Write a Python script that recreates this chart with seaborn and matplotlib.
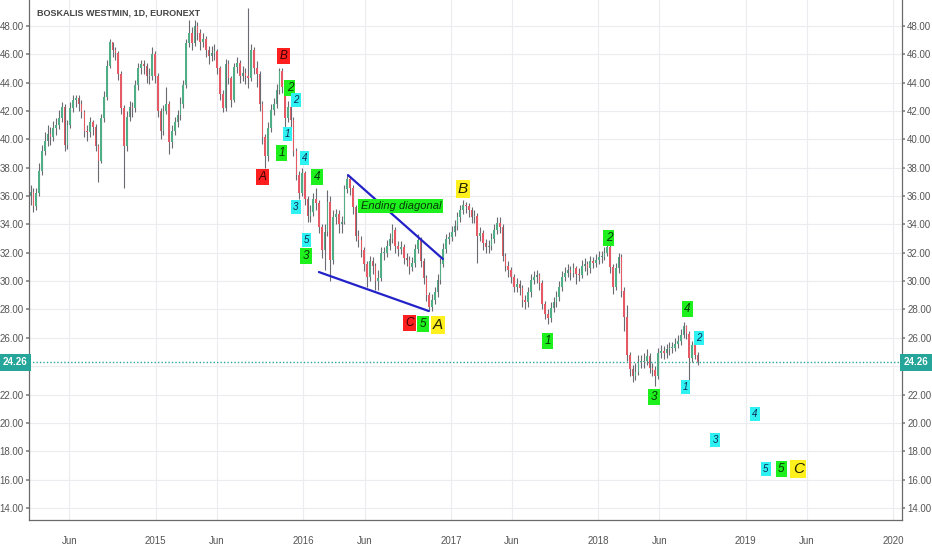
import pandas as pd
import numpy as np
import seaborn as sns
import matplotlib.pyplot as plt
import matplotlib.transforms as mtransforms

# weekly candles (close / high / low), start 2014-02-25
start_date = '2014-02-25'
first_open = 36.0
closes = [
    36.3, 35.3, 36.2, 37.8, 39.2, 39.9, 40.4, 40.2, 40.8, 41.0,
    41.5, 42.3, 39.6, 41.0, 42.2, 42.8, 42.9, 42.5, 41.9, 40.6,
    40.5, 41.2, 40.9, 39.5, 38.5, 41.5, 43.0, 45.2, 46.9, 46.3,
    46.1, 44.6, 42.2, 39.5, 41.6, 42.3, 42.2, 43.8, 45.0, 45.3,
    45.2, 44.5, 44.5, 46.0, 44.5, 42.0, 40.6, 42.0, 42.5, 39.8,
    40.6, 41.2, 41.7, 42.5, 43.8, 46.8, 47.5, 46.8, 48.0, 47.5,
    46.9, 47.1, 46.3, 45.9, 46.1, 46.2, 45.0, 43.2, 42.2, 45.3,
    44.3, 42.8, 45.1, 45.4, 44.5, 44.7, 44.5, 44.3, 46.3, 45.0,
    44.6, 42.5, 40.2, 38.8, 40.8, 42.1, 42.5, 43.5, 44.8, 43.7,
    41.5, 42.3, 41.4, 39.2, 37.5, 36.2, 37.6, 35.8, 34.6, 34.9,
    35.8, 35.5, 33.8, 32.2, 33.5, 35.6, 31.5, 34.5, 34.7, 34.0,
    34.2, 36.5, 37.2, 36.6, 35.2, 33.2, 32.9, 32.2, 31.2, 30.3,
    31.4, 31.1, 30.0, 30.2, 32.0, 32.0, 32.5, 33.0, 33.6, 32.5,
    32.3, 32.4, 31.6, 31.5, 31.0, 31.3, 32.3, 32.9, 31.4, 30.2,
    29.0, 28.2, 28.7, 29.2, 30.1, 31.2, 32.3, 33.0, 33.1, 33.5,
    33.9, 34.5, 35.0, 35.4, 35.3, 35.0, 34.5, 34.6, 33.2, 33.4,
    32.7, 32.4, 32.5, 33.0, 33.6, 34.1, 33.8, 31.8, 31.1, 30.8,
    30.3, 29.6, 29.8, 29.5, 28.7, 28.5, 29.2, 30.1, 30.3, 30.4,
    29.9, 28.4, 27.7, 27.4, 28.1, 28.5, 28.9, 29.6, 30.3, 30.6,
    30.8, 30.6, 30.9, 30.5, 30.4, 31.1, 31.2, 30.9, 31.4, 31.3,
    31.5, 31.7, 31.7, 32.0, 32.4, 31.0, 29.6, 30.9, 31.7, 29.3,
    27.5, 24.8, 23.8, 23.3, 23.6, 24.3, 24.3, 24.4, 24.7, 23.9,
    23.7, 23.3, 24.9, 25.1, 24.9, 25.2, 25.3, 25.3, 25.6, 25.8,
    26.2, 26.8, 26.3, 24.6, 25.5, 24.8, 24.26,
]
highs = [
    36.8, 36.6, 36.6, 38.3, 39.6, 40.5, 41.0, 40.9, 41.3, 41.5,
    42.1, 42.6, 42.5, 41.4, 42.6, 43.1, 43.1, 43.1, 42.8, 42.1,
    41.0, 41.6, 41.4, 41.1, 39.7, 41.8, 43.4, 45.6, 47.1, 46.9,
    46.5, 46.2, 44.8, 42.4, 42.0, 42.7, 42.6, 44.2, 45.4, 45.6,
    45.6, 45.4, 45.0, 46.5, 46.2, 44.7, 42.2, 42.4, 43.7, 42.7,
    41.0, 41.6, 42.1, 43.0, 44.2, 47.1, 48.4, 47.9, 48.4, 48.3,
    47.8, 47.5, 47.3, 46.6, 46.6, 46.7, 46.4, 45.2, 43.5, 45.7,
    45.6, 44.5, 45.4, 45.8, 45.6, 45.2, 45.0, 49.3, 46.7, 46.5,
    45.5, 44.8, 42.7, 40.4, 41.2, 42.5, 42.9, 43.9, 45.0, 45.0,
    43.9, 42.7, 42.6, 41.6, 39.4, 37.8, 38.0, 37.8, 36.0, 35.4,
    36.2, 36.6, 35.7, 34.0, 34.0, 36.4, 36.0, 35.0, 35.1, 35.0,
    34.6, 36.8, 37.5, 37.4, 36.8, 35.4, 33.6, 33.2, 32.4, 31.4,
    31.8, 31.7, 31.3, 30.8, 32.4, 32.4, 32.9, 33.4, 34.0, 33.8,
    32.8, 32.8, 32.6, 32.0, 31.8, 31.7, 32.6, 33.3, 33.1, 31.6,
    30.4, 29.2, 29.1, 29.6, 30.5, 31.6, 32.7, 33.3, 33.5, 33.9,
    34.3, 34.9, 35.4, 35.7, 35.6, 35.5, 35.2, 35.0, 34.8, 33.8,
    33.6, 33.0, 32.9, 33.4, 34.0, 34.5, 34.5, 34.0, 32.0, 31.4,
    31.0, 30.5, 30.2, 30.1, 29.7, 29.0, 29.6, 30.5, 30.7, 30.8,
    30.6, 30.1, 28.6, 28.0, 28.5, 28.9, 29.3, 30.0, 30.7, 31.0,
    31.2, 31.1, 31.3, 31.1, 30.9, 31.5, 31.6, 31.4, 31.8, 31.7,
    31.9, 32.1, 32.1, 32.4, 32.9, 32.6, 31.2, 31.3, 32.0, 31.9,
    29.6, 28.3, 25.0, 24.1, 24.2, 24.8, 24.8, 24.9, 25.2, 24.9,
    24.2, 24.0, 25.3, 25.5, 25.4, 25.6, 25.7, 25.7, 26.0, 26.2,
    26.6, 27.1, 26.9, 26.5, 25.8, 25.7, 25.0,
]
lows = [
    35.4, 34.9, 35.0, 36.0, 37.5, 38.9, 39.5, 39.6, 39.9, 40.3,
    40.7, 41.2, 39.2, 39.3, 40.8, 41.9, 42.3, 42.0, 41.5, 40.2,
    39.9, 40.2, 40.3, 39.2, 37.0, 38.3, 41.2, 42.8, 45.0, 45.8,
    45.6, 44.2, 41.8, 36.6, 39.2, 41.3, 41.6, 41.9, 43.5, 44.6,
    44.6, 44.0, 43.9, 44.2, 44.0, 41.6, 40.0, 40.3, 41.8, 39.0,
    39.4, 40.3, 40.9, 41.4, 42.2, 43.6, 46.5, 46.3, 46.6, 47.0,
    46.3, 46.5, 45.8, 45.3, 45.5, 45.6, 44.6, 42.8, 41.9, 42.0,
    43.9, 42.3, 42.6, 44.7, 44.0, 44.1, 43.9, 43.6, 44.1, 44.6,
    43.7, 42.0, 39.7, 38.0, 38.5, 40.5, 41.7, 42.2, 43.2, 43.3,
    40.4, 41.2, 40.9, 38.8, 37.1, 35.8, 36.0, 35.4, 34.2, 34.2,
    34.6, 35.0, 33.4, 31.6, 30.8, 33.2, 30.0, 31.2, 34.0, 33.4,
    33.4, 34.0, 36.2, 36.1, 34.7, 32.8, 32.4, 31.7, 30.7, 29.6,
    30.0, 30.5, 29.4, 29.4, 30.0, 31.5, 31.7, 32.2, 32.7, 32.0,
    31.8, 31.9, 31.2, 31.1, 30.5, 30.7, 31.0, 32.0, 31.0, 29.8,
    28.6, 27.9, 27.9, 28.4, 28.9, 29.8, 31.0, 32.0, 32.6, 32.8,
    33.2, 33.6, 34.2, 34.7, 34.8, 34.5, 34.1, 34.1, 31.3, 32.8,
    32.2, 32.0, 32.0, 32.2, 32.7, 33.3, 33.4, 31.4, 30.7, 30.3,
    29.9, 29.2, 29.2, 29.0, 28.2, 28.0, 28.2, 28.9, 29.8, 29.9,
    29.4, 28.0, 27.3, 27.0, 27.1, 27.8, 28.2, 28.6, 29.3, 30.0,
    30.3, 30.1, 30.3, 29.8, 30.0, 30.2, 30.7, 30.4, 30.6, 30.9,
    31.0, 31.2, 31.3, 31.5, 31.8, 30.6, 29.1, 29.4, 30.6, 28.9,
    26.5, 24.4, 23.3, 22.9, 23.0, 23.4, 23.9, 23.9, 24.1, 23.5,
    23.3, 22.6, 23.1, 24.6, 24.5, 24.6, 24.8, 24.9, 25.1, 25.3,
    25.5, 26.0, 25.9, 23.0, 24.3, 24.5, 24.1,
]
last_price = 24.26

# Elliott wave labels: date, price, text, box style
wave_dates = ['2015-09-23', '2015-11-14', '2016-09-21',
              '2015-11-29', '2015-11-09', '2016-02-04', '2016-01-08', '2016-10-24',
              '2017-08-29', '2018-01-27', '2018-05-19', '2018-08-09', '2019-03-30',
              '2015-12-14', '2015-11-24', '2016-01-05', '2015-12-14', '2016-01-10',
              '2018-08-04', '2018-09-07', '2019-01-24', '2018-10-17', '2019-02-20',
              '2016-11-30', '2017-01-31', '2019-05-11']
wave_prices = [37.34, 45.88, 27.04,
               43.62, 39.04, 37.34, 31.77, 26.97,
               25.77, 33.04, 21.82, 28.03, 16.74,
               42.78, 40.38, 38.68, 35.23, 32.90,
               22.52, 25.98, 20.62, 18.78, 16.74,
               26.90, 36.50, 16.74]
wave_texts = ['A', 'B', 'C',
              '2', '1', '4', '3', '5',
              '1', '2', '3', '4', '5',
              '2', '1', '4', '3', '5',
              '1', '2', '4', '3', '5',
              'A', 'B', 'C']
wave_kinds = ['red'] * 3 + ['green'] * 10 + ['cyan'] * 10 + ['yellow'] * 3

# ending diagonal trend lines
diag_dates = ['2016-04-21', '2016-12-12', '2016-02-09', '2016-11-07']
diag_prices = [37.48, 31.56, 30.64, 27.89]
diag_line = ['upper', 'upper', 'lower', 'lower']
diag_text_date = '2016-08-30'
diag_text_price = 35.30

sns.set_theme(style='white')
plt.rcParams['font.family'] = ['Liberation Sans', 'DejaVu Sans']

fig = plt.figure(figsize=(9.32, 5.5), dpi=100)
ax = fig.add_axes([29 / 932, 30 / 550, 873 / 932, 520 / 550])

dates = pd.date_range(start_date, periods=len(closes), freq='7D')
opens = [first_open] + closes[:-1]
candles = pd.DataFrame({'date': dates, 'open': opens, 'high': highs,
                        'low': lows, 'close': closes})
up = candles['close'] >= candles['open']
body_bottom = candles[['open', 'close']].min(axis=1)
body_height = (candles['close'] - candles['open']).abs().clip(lower=0.06)
body_colors = np.where(up, '#4fae85', '#e65a66')

ax.vlines(candles['date'], candles['low'], candles['high'],
          color='#6a6a70', lw=0.8, zorder=3)
ax.bar(candles['date'], body_height, bottom=body_bottom, width=4.0,
       color=body_colors, edgecolor='none', zorder=4)

diag = pd.DataFrame({'date': pd.to_datetime(diag_dates), 'price': diag_prices,
                     'line': diag_line})
sns.lineplot(data=diag, x='date', y='price', units='line', estimator=None,
             color='#2222c8', lw=1.6, ax=ax, zorder=5)

ax.axhline(last_price, color='#26a69a', ls=(0, (1, 1.5)), lw=1.0, zorder=2)

box_face = {'red': '#ff1f1f', 'green': '#1ef01e', 'cyan': '#2ef2f2', 'yellow': '#fff01e'}
text_col = {'red': '#3a0000', 'green': '#063806', 'cyan': '#0a2a55', 'yellow': '#222200'}
font_size = {'red': 8.5, 'green': 8.5, 'cyan': 7, 'yellow': 11}
box_pad = {'red': 0.2, 'green': 0.2, 'cyan': 0.2, 'yellow': 0.15}
for d, p, t, k in zip(wave_dates, wave_prices, wave_texts, wave_kinds):
    ax.text(pd.Timestamp(d), p, t, ha='center', va='center', style='italic',
            fontsize=font_size[k], color=text_col[k], zorder=6,
            bbox=dict(boxstyle=f'square,pad={box_pad[k]}', fc=box_face[k], ec='none'))

ax.text(pd.Timestamp(diag_text_date), diag_text_price, 'Ending diagonal',
        ha='center', va='center', style='italic', fontsize=8, color='#063806',
        zorder=6, bbox=dict(boxstyle='square,pad=0.2', fc='#1ef01e', ec='none'))

ax.set_xlim(pd.Timestamp('2014-02-21'), pd.Timestamp('2020-01-23'))
ax.set_ylim(13.15, 49.83)

yticks = np.arange(14, 49, 2)
ax.set_yticks(yticks)
ax.set_yticklabels(['' if v == 24 else f'{v:.2f}' for v in yticks])
xtick_dates = ['2014-06-01', '2015-01-01', '2015-06-01', '2016-01-01', '2016-06-01',
               '2017-01-01', '2017-06-01', '2018-01-01', '2018-06-01', '2019-01-01',
               '2019-06-01', '2020-01-01']
xtick_labels = ['Jun', '2015', 'Jun', '2016', 'Jun', '2017', 'Jun', '2018', 'Jun',
                '2019', 'Jun', '2020']
ax.set_xticks(pd.to_datetime(xtick_dates))
ax.set_xticklabels(xtick_labels)
ax.set_xlabel('')
ax.set_ylabel('')

ax.grid(True, color='#ececf0', lw=0.8, zorder=0)
ax.tick_params(axis='y', labelleft=True, labelright=True, left=True, right=True,
               length=2.2, pad=1.5, labelsize=7, labelcolor='#555555', color='#888888')
ax.tick_params(axis='x', length=2.2, pad=9, labelsize=7, labelcolor='#555555',
               color='#888888')
for side in ['left', 'right', 'bottom']:
    ax.spines[side].set_visible(True)
    ax.spines[side].set_color('#6a6a6a')
    ax.spines[side].set_linewidth(0.9)
ax.spines['top'].set_visible(False)

side_tr = mtransforms.blended_transform_factory(ax.transAxes, ax.transData)
for xa, ha in [(-0.002, 'right'), (1.002, 'left')]:
    ax.text(xa, last_price, f'{last_price:.2f}', transform=side_tr, ha=ha, va='center',
            fontsize=7, color='white', fontweight='bold', zorder=7, clip_on=False,
            bbox=dict(boxstyle='square,pad=0.4', fc='#26a69a', ec='none'))

fig.text(37 / 932, 1 - 13 / 550, 'BOSKALIS WESTMIN, 1D, EURONEXT', fontsize=6.5,
         fontweight='bold', color='#444444', va='center', ha='left')

fig.savefig('out.png', dpi=100)
